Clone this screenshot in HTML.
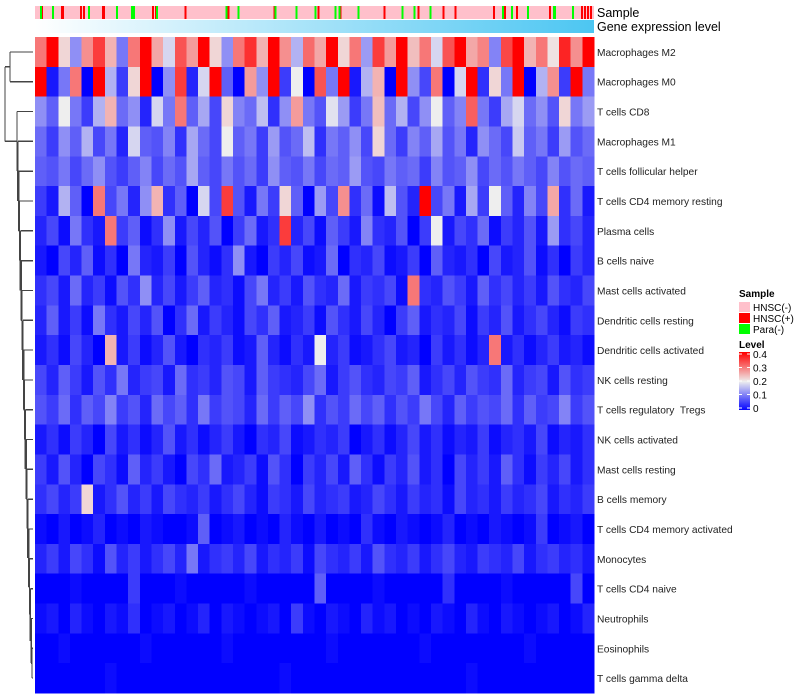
<!DOCTYPE html>
<html><head><meta charset="utf-8"><style>
body{margin:0;background:#fff;}
svg{display:block;font-family:"Liberation Sans",sans-serif;}
text{white-space:pre;}
</style></head><body>
<svg id="chart" width="800" height="700" viewBox="0 0 800 700" shape-rendering="crispEdges"></svg>
<script>
const rowNames=["Macrophages M2","Macrophages M0","T cells CD8","Macrophages M1","T cells follicular helper","T cells CD4 memory resting","Plasma cells","B cells naive","Mast cells activated","Dendritic cells resting","Dendritic cells activated","NK cells resting","T cells regulatory  Tregs","NK cells activated","Mast cells resting","B cells memory","T cells CD4 memory activated","Monocytes","T cells CD4 naive","Neutrophils","Eosinophils","T cells gamma delta"];
const rowM2=[.30,.40,.22,.12,.28,.35,.25,.10,.30,.40,.26,.18,.33,.27,.40,.22,.12,.30,.36,.25,.40,.28,.15,.31,.26,.40,.22,.30,.13,.35,.27,.40,.24,.30,.18,.33,.40,.26,.29,.11,.34,.40,.25,.30,.21,.37,.28,.40];
const rowM0=[.40,.02,.10,.30,.00,.40,.15,.05,.22,.40,.00,.12,.35,.03,.18,.40,.08,.00,.27,.12,.40,.05,.20,.00,.33,.10,.40,.02,.15,.25,.00,.40,.12,.06,.30,.00,.18,.40,.04,.22,.10,.40,.00,.15,.28,.05,.40,.10];
const rowCD8=[.12,.08,.20,.10,.05,.15,.25,.09,.12,.03,.18,.10,.30,.08,.14,.06,.22,.11,.09,.16,.04,.12,.27,.10,.07,.19,.13,.05,.10,.24,.09,.15,.06,.12,.20,.08,.11,.32,.10,.05,.14,.18,.09,.12,.07,.22,.10,.13];
const rowM1=[.09,.05,.12,.08,.15,.06,.10,.03,.18,.08,.07,.11,.04,.14,.09,.06,.20,.08,.10,.05,.13,.07,.09,.16,.04,.10,.08,.12,.06,.22,.09,.05,.11,.08,.14,.07,.10,.03,.12,.09,.06,.17,.08,.10,.05,.13,.07,.09];
const rowTfh=[.08,.07,.10,.06,.09,.12,.07,.05,.08,.11,.06,.09,.07,.14,.08,.06,.10,.07,.09,.05,.12,.08,.07,.10,.06,.09,.08,.13,.07,.06,.10,.08,.09,.05,.11,.07,.08,.12,.06,.09,.07,.10,.08,.06,.11,.07,.09,.08];
const rowCD4mr=[.05,.02,.15,.08,.00,.30,.06,.10,.03,.12,.25,.04,.08,.00,.18,.06,.35,.07,.02,.10,.05,.22,.08,.00,.13,.06,.28,.04,.09,.01,.16,.07,.03,.40,.06,.10,.02,.14,.05,.20,.08,.03,.11,.06,.26,.04,.09,.02];
const rowPlasma=[.03,.06,.01,.10,.04,.02,.30,.05,.08,.01,.04,.12,.02,.06,.03,.07,.00,.05,.09,.02,.04,.35,.03,.06,.01,.08,.05,.02,.11,.04,.03,.07,.00,.05,.20,.02,.06,.04,.09,.01,.05,.03,.07,.02,.13,.04,.06,.03];
const rowBn=[.02,.00,.06,.03,.08,.01,.04,.00,.10,.03,.02,.05,.00,.07,.03,.01,.04,.12,.02,.00,.05,.03,.06,.01,.02,.09,.00,.04,.03,.06,.01,.02,.05,.00,.08,.03,.02,.04,.00,.06,.02,.03,.07,.01,.04,.00,.05,.03];
const rowMastA=[.04,.06,.02,.09,.03,.05,.01,.07,.04,.12,.03,.06,.02,.05,.08,.03,.04,.01,.06,.10,.03,.05,.02,.07,.04,.03,.09,.02,.05,.04,.06,.01,.30,.04,.03,.07,.05,.02,.08,.04,.06,.03,.05,.02,.07,.04,.03,.06];
const rowDCr=[.03,.08,.02,.05,.01,.10,.04,.02,.06,.03,.07,.00,.04,.09,.02,.05,.03,.01,.06,.04,.08,.02,.03,.05,.01,.07,.04,.02,.06,.03,.00,.05,.08,.02,.04,.03,.06,.01,.05,.03,.07,.02,.04,.06,.03,.01,.05,.04];
const rowDCa=[.02,.04,.01,.06,.03,.00,.25,.02,.05,.01,.03,.07,.02,.00,.04,.03,.05,.01,.02,.08,.03,.01,.04,.02,.20,.03,.05,.01,.02,.04,.06,.02,.03,.00,.05,.02,.04,.01,.03,.30,.02,.04,.01,.03,.05,.02,.03,.01];
const rowNKr=[.06,.03,.08,.05,.02,.07,.04,.10,.03,.05,.06,.02,.09,.04,.05,.03,.07,.06,.02,.08,.05,.04,.03,.06,.09,.02,.05,.07,.04,.03,.06,.05,.08,.02,.04,.06,.03,.07,.05,.04,.09,.03,.05,.06,.02,.07,.04,.05];
const rowTreg=[.07,.05,.09,.04,.08,.06,.11,.05,.07,.03,.09,.06,.08,.04,.10,.05,.07,.06,.03,.09,.05,.08,.06,.12,.04,.07,.05,.09,.06,.08,.04,.07,.05,.10,.06,.03,.08,.05,.07,.06,.09,.04,.08,.05,.06,.11,.05,.07];
const rowNKa=[.02,.04,.01,.05,.03,.00,.06,.02,.04,.01,.03,.07,.02,.04,.01,.03,.05,.02,.00,.04,.03,.06,.01,.02,.04,.03,.05,.00,.02,.04,.01,.03,.06,.02,.04,.01,.03,.02,.05,.01,.03,.04,.02,.06,.01,.03,.02,.04];
const rowMastR=[.05,.02,.07,.03,.00,.06,.04,.01,.08,.03,.05,.02,.00,.06,.04,.09,.02,.03,.05,.01,.07,.04,.00,.05,.03,.06,.02,.08,.04,.01,.05,.03,.07,.02,.04,.00,.06,.03,.05,.02,.08,.04,.01,.05,.03,.06,.02,.04];
const rowBm=[.04,.06,.03,.05,.22,.02,.04,.07,.03,.05,.02,.06,.04,.03,.05,.02,.04,.06,.03,.01,.05,.04,.02,.06,.03,.04,.05,.02,.03,.06,.04,.02,.05,.03,.04,.01,.06,.03,.04,.02,.05,.03,.04,.06,.02,.04,.03,.05];
const rowCD4ma=[.01,.00,.02,.00,.01,.03,.00,.01,.00,.02,.01,.00,.00,.01,.08,.00,.01,.02,.00,.01,.00,.03,.01,.00,.02,.00,.01,.00,.04,.01,.00,.02,.01,.00,.01,.03,.00,.01,.00,.02,.01,.00,.01,.05,.00,.01,.02,.00];
const rowMono=[.03,.05,.02,.06,.04,.01,.07,.03,.05,.02,.04,.06,.03,.10,.02,.04,.05,.03,.06,.02,.04,.03,.05,.01,.06,.04,.03,.05,.02,.07,.04,.03,.05,.02,.04,.06,.03,.02,.05,.04,.03,.06,.02,.04,.05,.03,.04,.02];
const rowCD4n=[0,0,0,.01,0,0,0,0,.05,0,0,0,.01,0,0,0,0,0,.01,0,0,0,0,0,.08,0,0,0,0,.01,0,0,0,0,0,.04,0,0,0,0,.01,0,0,0,0,0,.06,0];
const rowNeut=[.01,.02,.00,.03,.01,.00,.02,.01,.04,.00,.01,.02,.00,.01,.03,.00,.02,.01,.00,.01,.02,.00,.05,.01,.00,.02,.01,.00,.03,.01,.02,.00,.01,.00,.02,.01,.00,.03,.01,.00,.02,.01,.00,.01,.02,.00,.01,.03];
const rowEos=[0,0,.01,0,0,0,0,0,0,.01,0,0,0,0,0,0,.01,0,0,0,0,0,0,0,0,.01,0,0,0,0,0,0,0,.01,0,0,0,0,0,0,0,0,.01,0,0,0,0,0];
const rowGD=[0,0,0,0,0,0,.01,0,0,0,0,0,0,0,0,0,0,0,0,0,0,.01,0,0,0,0,0,0,0,0,0,0,0,0,0,0,0,.01,0,0,0,0,0,0,0,0,0,0];
const matrix=[rowM2,rowM0,rowCD8,rowM1,rowTfh,rowCD4mr,rowPlasma,rowBn,rowMastA,rowDCr,rowDCa,rowNKr,rowTreg,rowNKa,rowMastR,rowBm,rowCD4ma,rowMono,rowCD4n,rowNeut,rowEos,rowGD];
const nSamples=560;
const hnscPosIdx=[5,6,26,27,45,48,67,68,117,120,150,193,239,283,305,349,383,408,420,459,470,482,515,547,550,553,556];
const paraIdx=[5,17,53,81,96,98,121,191,203,240,261,280,300,304,323,367,379,395,468,477,493,519,520,538];
const levelTicks=[0,0.1,0.2,0.3,0.4];

const svg=document.getElementById('chart');
const NS='http://www.w3.org/2000/svg';
function mk(tag,attrs,parent){const e=document.createElementNS(NS,tag);for(const k in attrs)e.setAttribute(k,attrs[k]);(parent||svg).appendChild(e);return e;}
const X0=35,X1=594,Y0=37,Y1=693;
const rowH=(Y1-Y0)/matrix.length;
function colorOf(v){v=Math.max(0,Math.min(0.4,v));let r,g,b;
 if(v<=0.2){const t=v/0.2;r=g=Math.round(238*t);b=Math.round(255-17*t);}
 else{const t=(v-0.2)/0.2;r=Math.round(238+17*t);g=b=Math.round(238*(1-t));}
 return `rgb(${r},${g},${b})`;}
function xScale(i,n){return X0+(X1-X0)*i/n;}
function yRow(i){return Y0+rowH*i;}

const sampleBg=mk('rect',{x:X0,y:6,width:X1-X0,height:13,fill:'#FFC0CB'});


hnscPosIdx.forEach(i=>{const r=mk('rect',{x:xScale(i,nSamples),y:6,width:2,height:13,fill:'#FF0000'});
 
 });
paraIdx.forEach(i=>{const r=mk('rect',{x:xScale(i,nSamples),y:6,width:2,height:13,fill:'#00FF00'});
 
 });
const defs=mk('defs',{});
const gr=mk('linearGradient',{id:'ge',x1:0,x2:1,y1:0,y2:0},defs);
mk('stop',{offset:'0','stop-color':'#ffffff'},gr);mk('stop',{offset:'1','stop-color':'#4CC6F2'},gr);
const geBar=mk('rect',{x:X0,y:20,width:X1-X0,height:13,fill:'url(#ge)'});


const t1=mk('text',{x:597,y:17,'font-size':12.5,fill:'#000'});t1.textContent='Sample';


const t2=mk('text',{x:597,y:31,'font-size':12.5,fill:'#000'});t2.textContent='Gene expression level';



matrix.forEach((row,ri)=>{
 row.forEach((v,ci)=>{
  const c=mk('rect',{x:xScale(ci,row.length),y:yRow(ri),width:(X1-X0)/row.length+0.5,height:rowH+0.5,fill:colorOf(v)});
  
  
 });
 const lab=mk('text',{x:597,y:yRow(ri)+rowH/2+4,'font-size':10.2,fill:'#222'});
 lab.textContent=rowNames[ri];
 
 
});

const dg=mk('g',{stroke:'#444','stroke-width':1.3,fill:'none'});


function cy(i){return yRow(i)+rowH/2;}
function seg(x1,y1,x2,y2){mk('line',{x1,y1,x2,y2},dg);}
seg(33,cy(0),10,cy(0));seg(33,cy(1),10,cy(1));seg(10,cy(0),10,cy(1));
const topY=(cy(0)+cy(1))/2;
let curY=cy(21),curX=33;
for(let i=20;i>=2;i--){
 const mx=17+(i-2)*(15/18);
 seg(33,cy(i),mx,cy(i));seg(curX,curY,mx,curY);seg(mx,cy(i),mx,curY);
 curY=(cy(i)+curY)/2;curX=mx;
}
seg(10,topY,5,topY);seg(curX,curY,5,curY);seg(5,topY,5,curY);

const lg=mk('g',{});


const ls=mk('text',{x:739,y:297,'font-size':10,'font-weight':'bold'},lg);ls.textContent='Sample';
[['#FFC0CB','HNSC(-)'],['#FF0000','HNSC(+)'],['#00FF00','Para(-)']].forEach((d,i)=>{
 const r=mk('rect',{x:739,y:302+i*11,width:11,height:10,fill:d[0]},lg);
 
 
 const t=mk('text',{x:753,y:311+i*11,'font-size':10},lg);t.textContent=d[1];
 
 
});
const ll=mk('text',{x:739,y:348,'font-size':10,'font-weight':'bold'},lg);ll.textContent='Level';
const cbTop=352,cbBot=410;
for(let k=0;k<58;k++){
 const v=0.4*(1-k/58);
 mk('rect',{x:739,y:cbTop+k,width:11,height:1.2,fill:colorOf(v)},lg);
}
levelTicks.forEach(v=>{
 const y=cbBot-(v/0.4)*(cbBot-cbTop-4)-2;
 mk('line',{x1:739,x2:742,y1:y,y2:y,stroke:'#fff'},lg);
 mk('line',{x1:747,x2:750,y1:y,y2:y,stroke:'#fff'},lg);
 const t=mk('text',{x:753,y:y+4,'font-size':10},lg);t.textContent=String(v);
 
 
});
</script>
</body></html>
